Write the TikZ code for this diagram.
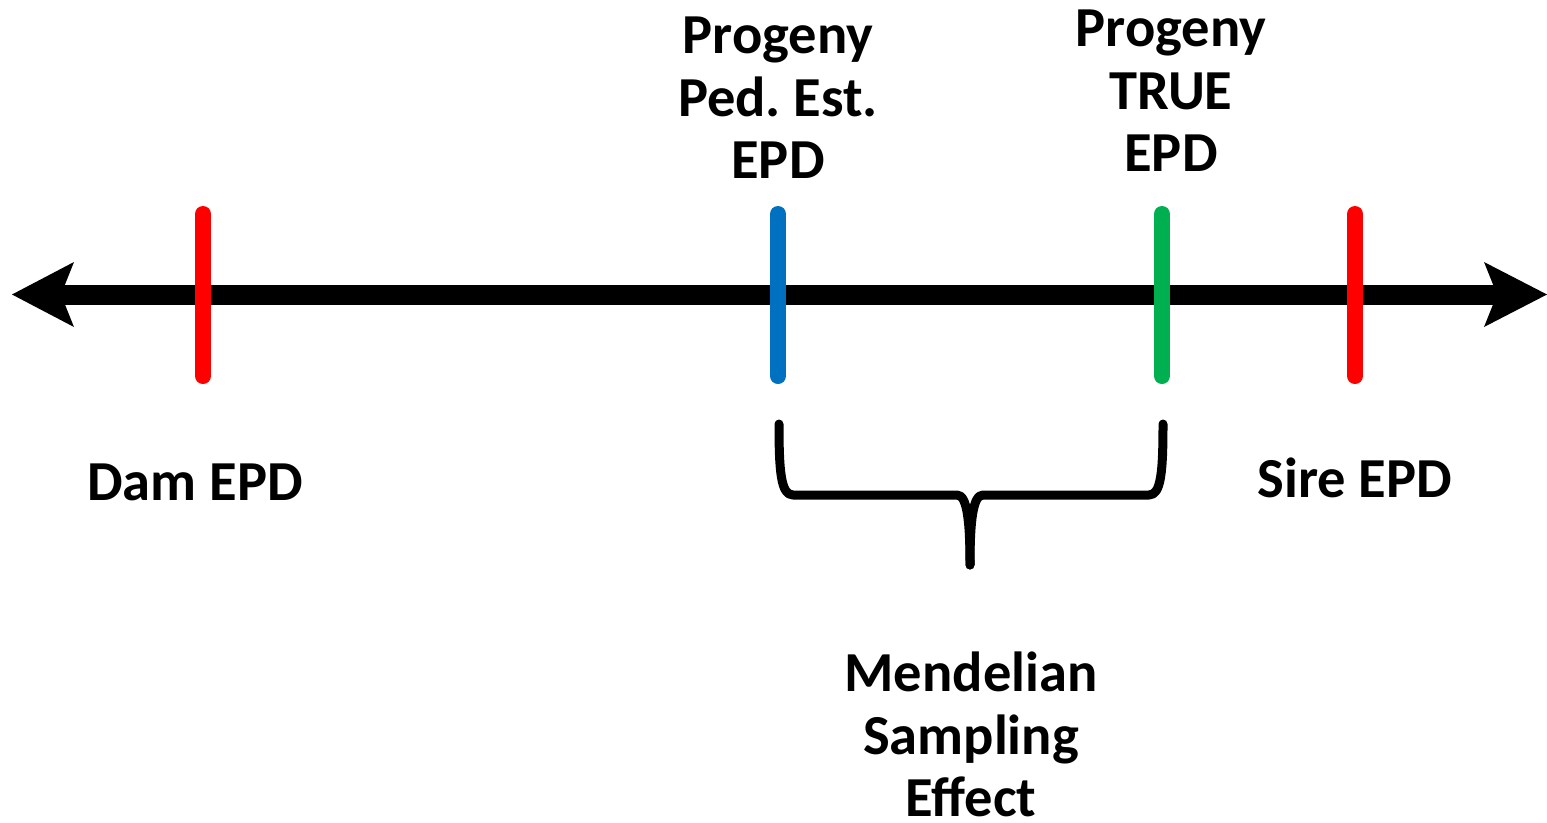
\documentclass[tikz,border=0pt]{standalone}
\usepackage{fontspec}
\setmainfont{Carlito}
\definecolor{tickred}{HTML}{FF0000}
\definecolor{tickblue}{HTML}{0070C0}
\definecolor{tickgreen}{HTML}{00B050}
\begin{document}
\frenchspacing
\begin{tikzpicture}[x=1pt,y=-1pt,
  lbl/.style={font=\fontsize{56.5}{62.5}\selectfont\bfseries, align=center, inner sep=0pt},
  tickline/.style={line width=16pt, line cap=round},
  bracestyle/.style={line width=9pt, line cap=round, line join=round}]
\useasboundingbox (0,0) rectangle (1547,822);
% axis
\coordinate (L) at (60,294.5);
\coordinate (R) at (1499,294.5);
\draw[line width=20pt] (L) -- (R);
\fill (12,294.5) -- (74,262) -- (61,294.5) -- (74,327) -- cycle;
\fill (1547,294.5) -- (1484,262) -- (1497,294.5) -- (1484,327) -- cycle;
% ticks
\coordinate (d1) at (203,214); \coordinate (d2) at (203,376);
\coordinate (b1) at (778,214); \coordinate (b2) at (778,376);
\coordinate (g1) at (1162,214); \coordinate (g2) at (1162,376);
\coordinate (s1) at (1355,214); \coordinate (s2) at (1355,376);
\draw[tickline, tickred] (d1) -- (d2);
\draw[tickline, tickblue] (b1) -- (b2);
\draw[tickline, tickgreen] (g1) -- (g2);
\draw[tickline, tickred] (s1) -- (s2);
% brace
\coordinate (bl) at (779,424);
\coordinate (br) at (1163,424);
\coordinate (bt) at (970,565);
\draw[bracestyle] (bl) .. controls (779,472) and (781,495) .. (793,495)
  -- (957,495) .. controls (967,495) and (970,520) .. (bt);
\draw[bracestyle] (br) .. controls (1163,472) and (1161,495) .. (1149,495)
  -- (983,495) .. controls (973,495) and (970,520) .. (bt);
% labels
\node[lbl] (dam) at (195,482) {Dam EPD};
\node[lbl] (sire) at (1355,478) {Sire EPD};
\node[lbl] (ped) at (778,98) {Progeny\\Ped. Est.\\EPD};
\node[lbl] (true) at (1171,91) {Progeny\\TRUE\\EPD};
\node[lbl, text depth=0pt, anchor=south] (mend) at (971,817) {Mendelian\\Sampling\\Effect};
\end{tikzpicture}
\end{document}
